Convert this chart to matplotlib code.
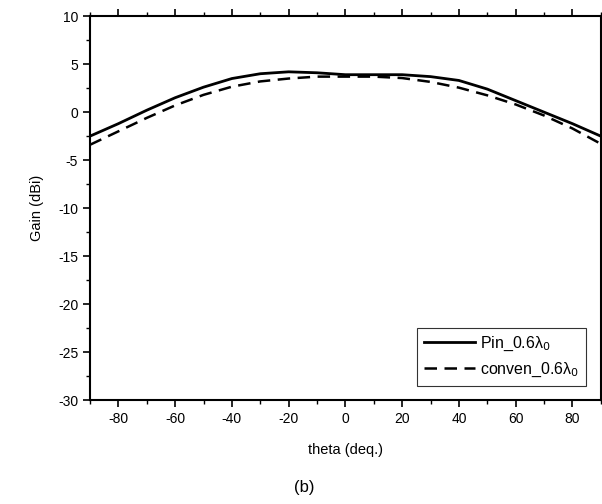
import numpy as np
import matplotlib.pyplot as plt
from matplotlib.ticker import MultipleLocator

plt.rcParams['font.family'] = ['Liberation Sans', 'DejaVu Sans']
plt.rcParams['axes.unicode_minus'] = False

theta = [-90, -80, -70, -60, -50, -40, -30, -20, -10, 0, 10, 20, 30, 40, 50, 60, 70, 80, 90]
gain_pin = [-2.5, -1.2, 0.2, 1.5, 2.6, 3.5, 4.0, 4.2, 4.1, 3.9, 3.9, 3.9, 3.7, 3.3, 2.4, 1.2, 0.0, -1.2, -2.5]
gain_conv = [-3.4, -2.0, -0.6, 0.7, 1.8, 2.65, 3.2, 3.5, 3.7, 3.7, 3.7, 3.55, 3.15, 2.55, 1.75, 0.8, -0.35, -1.7, -3.3]

fig = plt.figure(figsize=(6.02, 5.04), dpi=100)
ax = fig.add_axes([0.1495, 0.206, 0.8485, 0.762])

ax.plot(theta, gain_pin, 'k-', lw=2, label='Pin_0.6λ$_0$')
ax.plot(theta, gain_conv, 'k--', lw=1.8, dashes=(5, 3), label='conven_0.6λ$_0$')

ax.set_xlim(-90, 90)
ax.set_ylim(-30, 10)
ax.xaxis.set_major_locator(MultipleLocator(20))
ax.xaxis.set_minor_locator(MultipleLocator(10))
ax.yaxis.set_major_locator(MultipleLocator(5))
ax.yaxis.set_minor_locator(MultipleLocator(2.5))
ax.tick_params(which='both', direction='out', top=True, right=False, labelsize=10)
ax.tick_params(which='major', length=5, width=1.2)
ax.tick_params(which='minor', length=3, width=1)
for s in ax.spines.values():
    s.set_linewidth(1.5)

ax.set_xlabel('theta (deq.)', fontsize=10.5, labelpad=12)
ax.set_ylabel('Gain (dBi)', fontsize=10.5, labelpad=10)
fig.text(0.505, 0.032, '(b)', ha='center', va='center', fontsize=12)

leg = ax.legend(loc='lower right', fontsize=11.5, frameon=True, fancybox=False,
                edgecolor='k', borderaxespad=0.9, handlelength=3.2, handletextpad=0.3,
                labelspacing=0.45, borderpad=0.45)
leg.get_frame().set_linewidth(0.8)

fig.savefig('out.png', dpi=100)
